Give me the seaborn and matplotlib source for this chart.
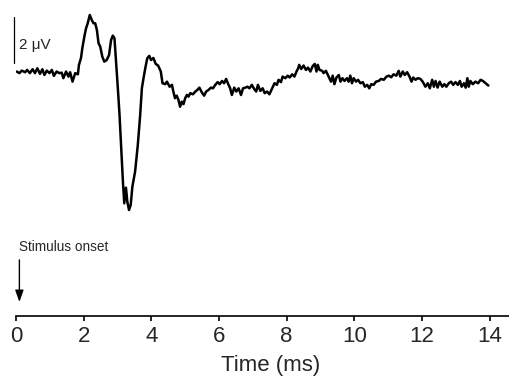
import matplotlib
matplotlib.use("Agg")
import matplotlib.pyplot as plt
import seaborn as sns
import pandas as pd

time_ms = [
    0.02, 0.10, 0.17, 0.27, 0.33, 0.41, 0.49, 0.56, 0.63, 0.71,
    0.78, 0.84, 0.91, 0.99, 1.06, 1.12, 1.20, 1.28, 1.35, 1.40,
    1.48, 1.55, 1.60, 1.67, 1.75, 1.83,
    1.86, 1.92, 1.96, 2.02, 2.07, 2.12, 2.18, 2.24, 2.29, 2.34,
    2.39, 2.44, 2.49, 2.55, 2.61, 2.68, 2.75, 2.81, 2.86, 2.91,
    2.95, 3.01, 3.06, 3.11, 3.16, 3.20, 3.25, 3.29, 3.34, 3.39,
    3.44, 3.52, 3.60, 3.67, 3.72, 3.77, 3.82, 3.88, 3.94, 3.99,
    4.06, 4.13, 4.20, 4.28, 4.33, 4.41,
    4.46, 4.54, 4.61, 4.65, 4.70, 4.75, 4.80, 4.85, 4.90, 4.95,
    5.00, 5.05, 5.10, 5.15, 5.23, 5.30, 5.36, 5.42, 5.49, 5.56,
    5.62, 5.69, 5.76, 5.82, 5.89, 5.96, 6.02, 6.09, 6.15, 6.21,
    6.27,
    6.33, 6.38, 6.45, 6.51, 6.58, 6.65, 6.71, 6.78, 6.84, 6.90,
    6.97, 7.04, 7.10, 7.15, 7.22, 7.29, 7.35, 7.42, 7.49, 7.57,
    7.64, 7.71, 7.76, 7.83, 7.88, 7.96, 8.03, 8.09, 8.16, 8.23,
    8.29, 8.34, 8.37, 8.43, 8.50, 8.57, 8.63, 8.70, 8.77, 8.83,
    8.88, 8.92, 8.97, 9.05, 9.09, 9.16, 9.24, 9.31, 9.36, 9.41,
    9.47, 9.54, 9.59, 9.65, 9.71, 9.78, 9.83, 9.88, 9.93, 9.98,
    10.05, 10.11, 10.18, 10.25, 10.31, 10.38, 10.44, 10.50, 10.57, 10.64,
    10.72, 10.79, 10.87, 10.95, 11.02, 11.09, 11.16, 11.24, 11.31,
    11.36, 11.43, 11.49, 11.56, 11.63, 11.69, 11.74, 11.81, 11.87, 11.95,
    12.02, 12.10, 12.17, 12.23, 12.30, 12.35, 12.40, 12.46, 12.52, 12.60,
    12.66, 12.72, 12.79, 12.86, 12.92, 12.99, 13.06, 13.12, 13.17, 13.24,
    13.29, 13.34, 13.38, 13.43, 13.50, 13.58, 13.66, 13.73, 13.80, 13.88,
    13.96,
]

voltage_uv = [
    -0.07, -0.14, -0.03, -0.10, 0.00, -0.14, 0.03, -0.14, 0.07, -0.17,
    0.03, -0.22, -0.03, -0.14, 0.00, -0.26, -0.07, -0.14, -0.12, -0.36,
    -0.07, -0.29, -0.10, -0.51, -0.14, -0.19,
    0.22, 0.51, 0.94, 1.45, 1.81, 2.03, 2.39, 2.17, 2.03, 2.03,
    1.74, 1.16, 1.01, 0.58, 0.36, 0.43, 0.65, 1.30, 1.49, 1.38,
    0.51, -0.80, -1.96, -3.40, -4.86, -5.80, -5.12, -5.73, -6.09, -5.87,
    -5.07, -4.42, -3.26, -1.96, -0.80, -0.35, 0.07, 0.51, 0.61, 0.43,
    0.52, 0.26, 0.19, -0.07, -0.58, -0.62,
    -0.51, -0.73, -0.65, -0.94, -1.23, -1.12, -1.30, -1.60, -1.38, -1.49,
    -1.23, -1.09, -1.16, -1.01, -1.06, -0.94, -0.87, -0.77, -0.97, -1.12,
    -0.94, -0.87, -0.77, -0.80, -0.65, -0.53, -0.62, -0.48, -0.58, -0.39,
    -0.61,
    -0.80, -1.09, -0.77, -0.94, -0.80, -1.09, -0.80, -0.77, -0.73, -0.80,
    -0.65, -0.83, -0.94, -0.65, -0.91, -0.80, -1.01, -0.94, -1.06, -0.80,
    -0.58, -0.65, -0.43, -0.53, -0.29, -0.36, -0.25, -0.33, -0.19, -0.29,
    -0.07, 0.07, 0.22, 0.04, 0.19, 0.00, 0.10, -0.07, 0.17, 0.26,
    -0.07, 0.22, 0.00, -0.04, -0.14, -0.04, -0.29, -0.51, -0.25, -0.62,
    -0.33, -0.22, -0.51, -0.36, -0.48, -0.36, -0.51, -0.25, -0.58, -0.36,
    -0.51, -0.43, -0.58, -0.53, -0.73, -0.65, -0.80, -0.62, -0.65, -0.51,
    -0.48, -0.39, -0.43, -0.29, -0.25, -0.32, -0.19, -0.25, -0.04,
    -0.29, -0.07, -0.22, -0.10, -0.29, -0.51, -0.33, -0.43, -0.36, -0.39,
    -0.51, -0.73, -0.58, -0.80, -0.43, -0.73, -0.48, -0.77, -0.51, -0.73,
    -0.62, -0.73, -0.58, -0.51, -0.65, -0.53, -0.65, -0.48, -0.73, -0.58,
    -0.77, -0.36, -0.73, -0.48, -0.62, -0.51, -0.58, -0.43, -0.48, -0.58,
    -0.68,
]

x_ticks = [0, 2, 4, 6, 8, 10, 12, 14]
x_label = "Time (ms)"
scale_bar_uv = [0.29, 2.29]
scale_label = "2 \u03bcV"
onset_label = "Stimulus onset"

sns.set_style("white")
plt.rcParams["font.family"] = ["Liberation Sans", "DejaVu Sans"]

df = pd.DataFrame({"t": time_ms, "v": voltage_uv})

fig = plt.figure(figsize=(5.10, 3.79), dpi=100)
ax = fig.add_axes([16 / 510, 63 / 379, 494 / 510, 316 / 379])

sns.lineplot(data=df, x="t", y="v", ax=ax, color="black", linewidth=1.8,
             sort=False, estimator=None)

ax.set_xlim(0, 14.6)
ax.set_ylim(-10.70, 3.04)

for s in ["left", "top", "right"]:
    ax.spines[s].set_visible(False)
ax.spines["bottom"].set_linewidth(1.2)
ax.spines["bottom"].set_color("black")
ax.set_yticks([])
ax.set_ylabel("")
ax.set_xticks(x_ticks)
ax.set_xticklabels([str(t) for t in x_ticks])
ax.tick_params(axis="x", direction="out", length=3.5, width=1.2,
               labelsize=16, pad=4, color="black", bottom=True)
ax.set_xlabel(x_label, fontsize=16)
ax.xaxis.set_label_coords(0.516, -0.125)
ax.xaxis.label.set_va("top")

# scale bar
ax.plot([-0.06, -0.06], scale_bar_uv, color="black", linewidth=0.9,
        clip_on=False)
ax.text(0.09, 0.91, scale_label, fontsize=11, ha="left", va="baseline")

# stimulus onset marker
ax.text(0.1, -7.86, onset_label, fontsize=9.8, ha="left", va="baseline")
ax.annotate("", xy=(0.1, -10.09), xytext=(0.1, -8.26),
            arrowprops=dict(arrowstyle="-|>,head_length=0.7,head_width=0.25",
                            color="black", lw=1.0, shrinkA=0, shrinkB=0),
            annotation_clip=False)

fig.savefig("out.png", dpi=100)
